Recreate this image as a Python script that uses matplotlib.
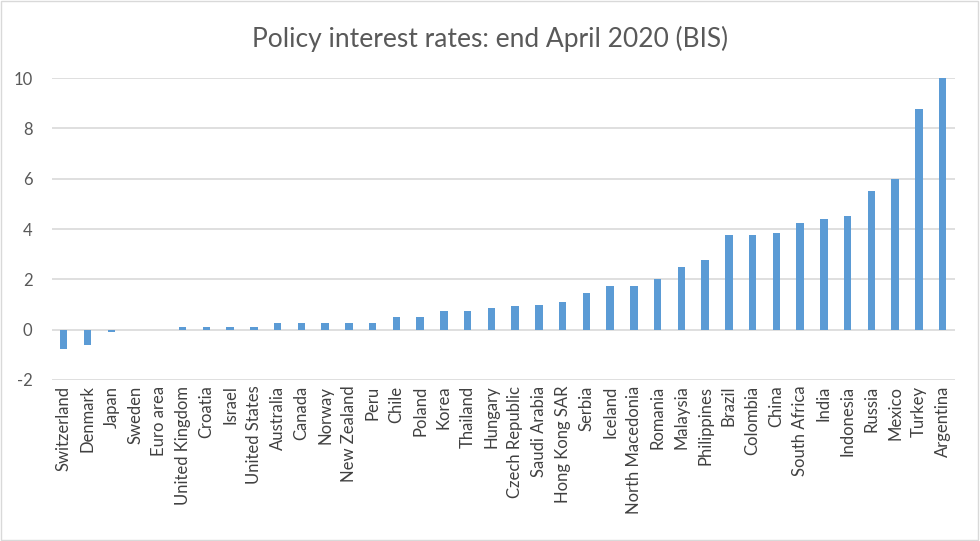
import matplotlib
matplotlib.use("Agg")
import matplotlib.pyplot as plt
from matplotlib.patches import Rectangle

countries = ["Switzerland", "Denmark", "Japan", "Sweden", "Euro area", "United Kingdom",
             "Croatia", "Israel", "United States", "Australia", "Canada", "Norway",
             "New Zealand", "Peru", "Chile", "Poland", "Korea", "Thailand", "Hungary",
             "Czech Republic", "Saudi Arabia", "Hong Kong SAR", "Serbia", "Iceland",
             "North Macedonia", "Romania", "Malaysia", "Philippines", "Brazil", "Colombia",
             "China", "South Africa", "India", "Indonesia", "Russia", "Mexico", "Turkey",
             "Argentina"]
rates = [-0.75, -0.6, -0.1, 0.0, 0.0, 0.1, 0.1, 0.1, 0.125, 0.25, 0.25, 0.25,
         0.25, 0.25, 0.5, 0.5, 0.75, 0.75, 0.85, 0.95, 1.0, 1.1, 1.45, 1.75,
         1.75, 2.0, 2.5, 2.75, 3.75, 3.75, 3.85, 4.25, 4.4, 4.5, 5.5, 6.0, 8.75,
         10.0]
yticks = [-2, 0, 2, 4, 6, 8, 10]
title = "Policy interest rates: end April 2020 (BIS)"

plt.rcParams["font.family"] = ["Lato", "DejaVu Sans"]

fig = plt.figure(figsize=(9.8, 5.41), dpi=100)
ax = fig.add_axes([0.053, 0.2976, 0.921, 0.5582])

x = list(range(len(countries)))
ax.bar(x, rates, width=0.31, color="#5B9BD5", zorder=3)

ax.set_xlim(-0.5, len(countries) - 0.5)
ax.set_ylim(-2, 10)
ax.set_yticks(yticks)
ax.set_yticklabels([str(t) for t in yticks], fontsize=12, color="#595959")
ax.set_xticks(x)
ax.set_xticklabels(countries, rotation=90, fontsize=12, color="#404040")
ax.tick_params(axis="both", length=0)
ax.tick_params(axis="y", pad=14)
ax.tick_params(axis="x", pad=4)
ax.yaxis.grid(True, color="#D9D9D9", linewidth=1.2, zorder=0)
for s in ax.spines.values():
    s.set_visible(False)

fig.text(0.5, 0.928, title, ha="center", va="center", fontsize=19, color="#595959")

fig.patches.append(Rectangle((0.001, 0.001), 0.997, 0.997, transform=fig.transFigure,
                             fill=False, edgecolor="#D9D9D9", linewidth=1))

fig.savefig("out.png", dpi=100)
